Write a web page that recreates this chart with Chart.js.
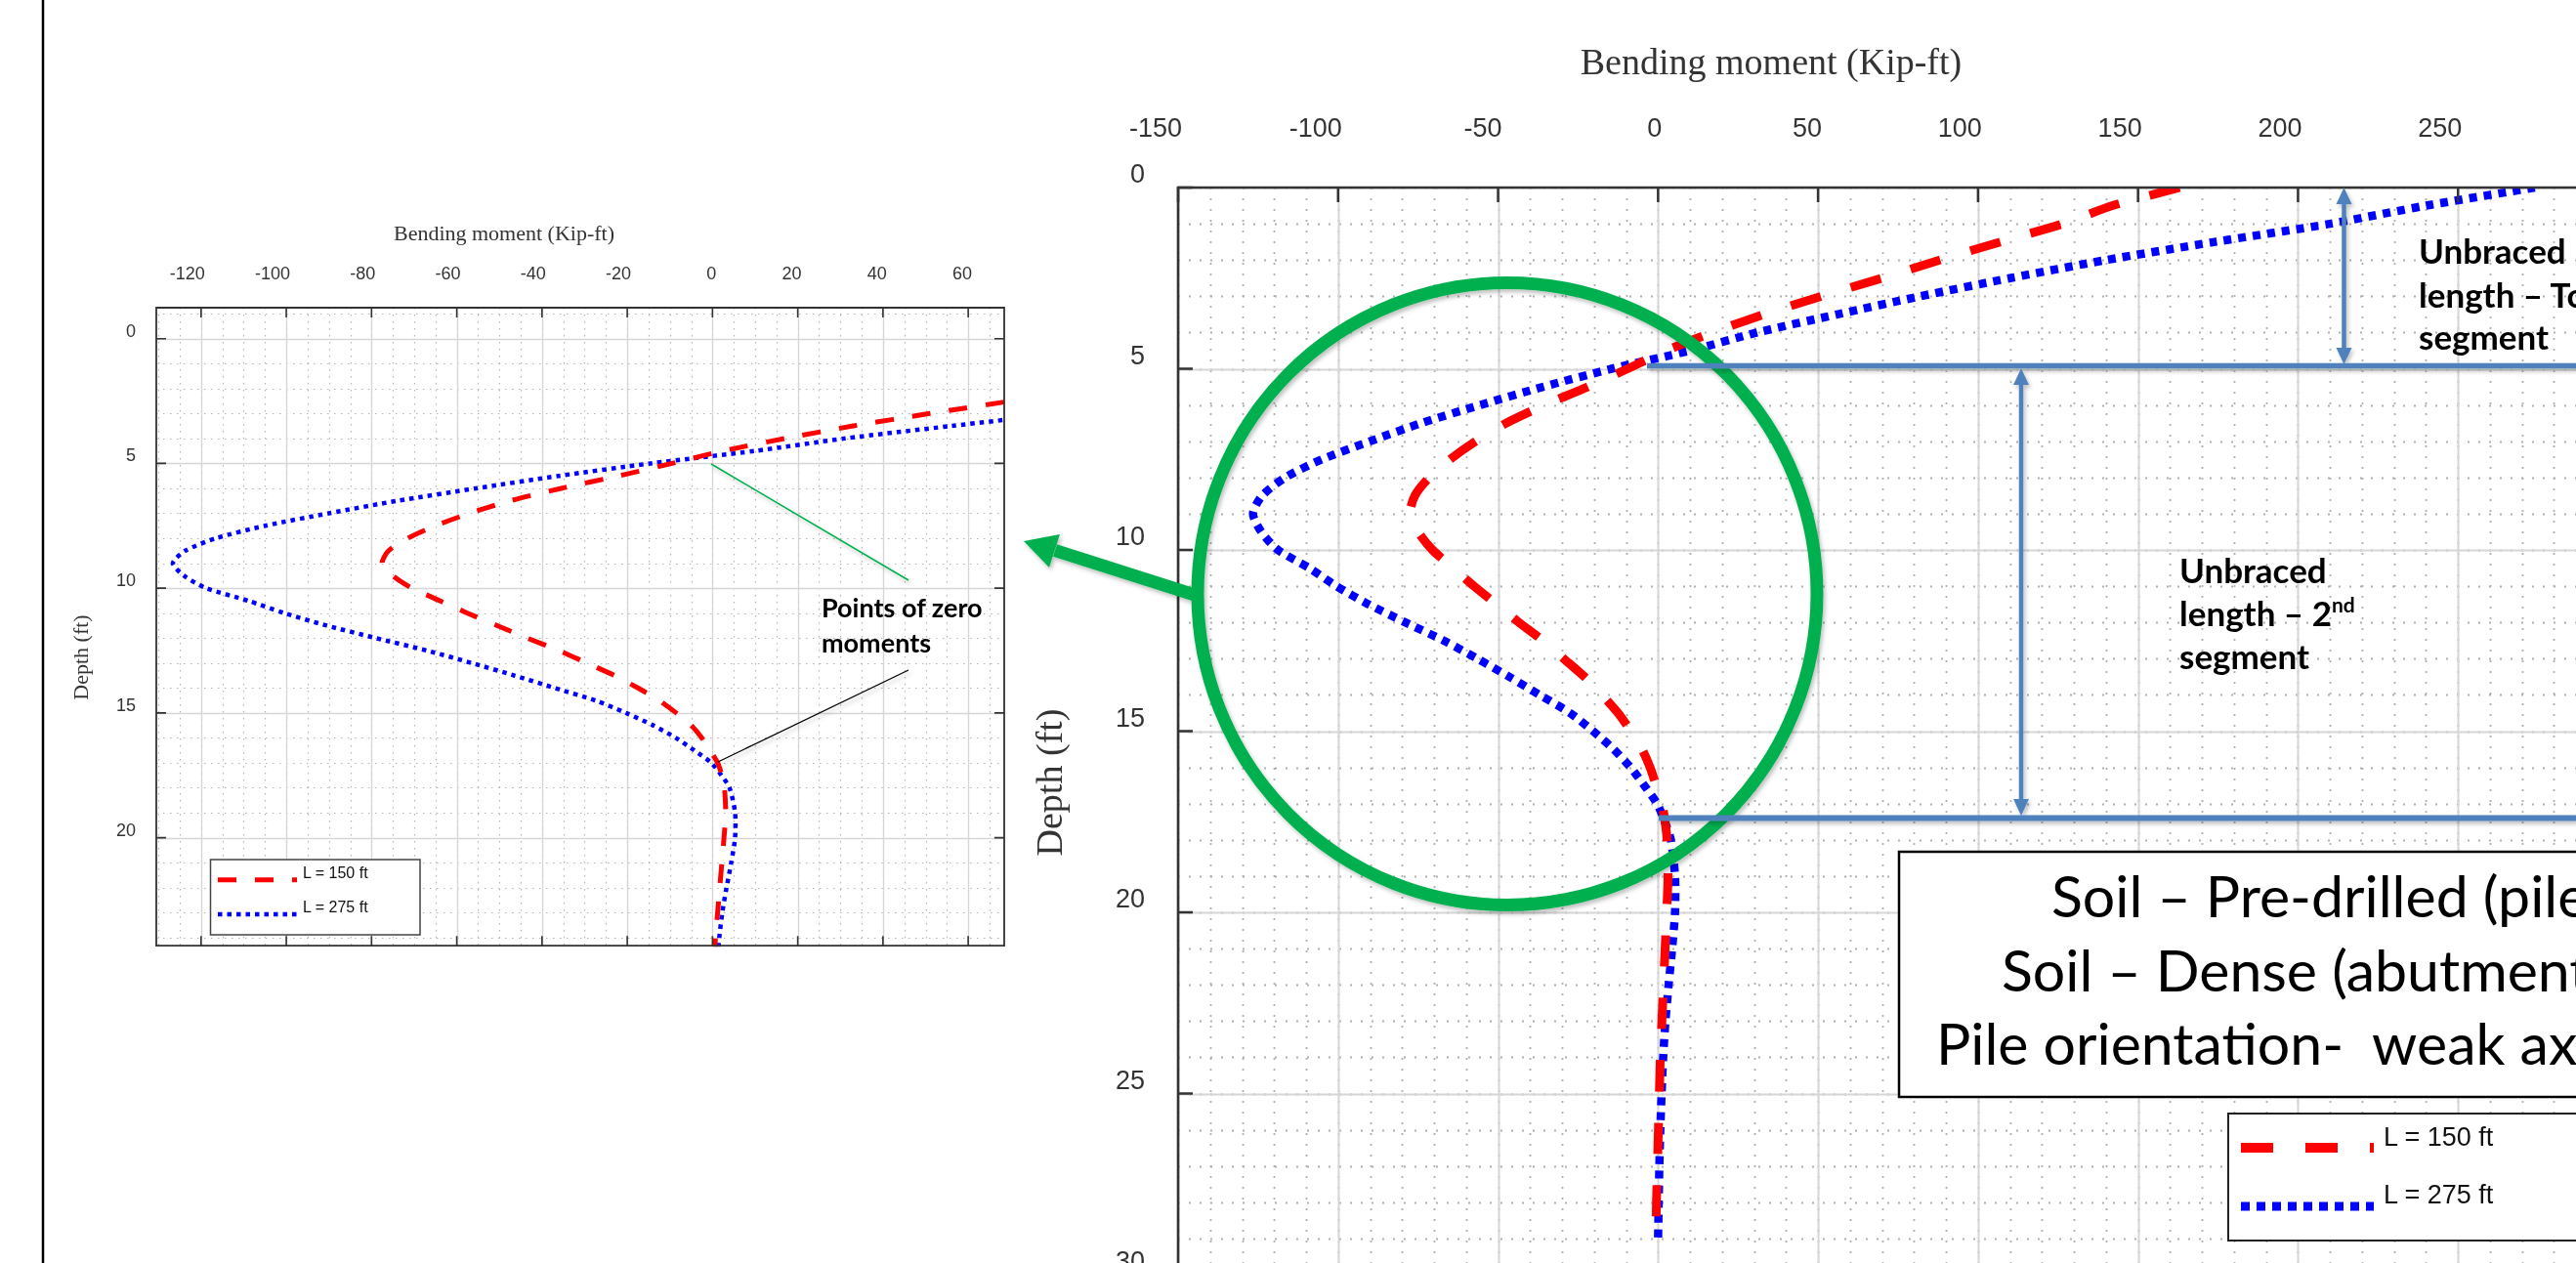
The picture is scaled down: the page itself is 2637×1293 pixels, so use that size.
<!DOCTYPE html>
<html>
<head>
<meta charset="utf-8">
<script src="https://cdn.jsdelivr.net/npm/chart.js@4.4.1/dist/chart.umd.min.js"></script>
<style>
  html, body { margin: 0; padding: 0; background: #fff; }
  body { width: 2637px; height: 1293px; overflow: hidden; position: relative; }
  canvas { position: absolute; top: 0; }
  #zoomChart { left: 0; }
  #mainChart { left: 1040px; }
  #notes { position: absolute; left: 0; top: 0; }
  .serif { font-family: 'Liberation Serif', 'Times New Roman', serif; fill: #333; }
  .callout { font-family: Lato, 'Open Sans', sans-serif; fill: #000; }
  .legend { font-family: 'Liberation Sans', Arial, sans-serif; fill: #111; }
</style>
</head>
<body>
<canvas id="zoomChart" width="1040" height="1000"></canvas>
<canvas id="mainChart" width="1700" height="1400"></canvas>

<svg id="notes" xmlns="http://www.w3.org/2000/svg" width="2637" height="1293" viewBox="0 0 2637 1293">
  <defs>
    <filter id="shade" filterUnits="userSpaceOnUse" x="0" y="0" width="2637" height="1293">
      <feDropShadow dx="2" dy="3" stdDeviation="2" flood-color="#000" flood-opacity="0.25"/>
    </filter>
  </defs>

  <!-- slide edge -->
  <line x1="44" y1="0" x2="44" y2="1293" stroke="#000" stroke-width="2.5"/>

  <!-- axis titles -->
  <text class="serif" x="516" y="246" font-size="22" text-anchor="middle">Bending moment (Kip-ft)</text>
  <text class="serif" transform="translate(90,673) rotate(-90)" font-size="22" text-anchor="middle">Depth (ft)</text>
  <text class="serif" x="1813" y="76" font-size="38" text-anchor="middle">Bending moment (Kip-ft)</text>
  <text class="serif" transform="translate(1087,801) rotate(-90)" font-size="38" text-anchor="middle">Depth (ft)</text>

  <!-- zero moment callout (zoomed chart) -->
  <line x1="728" y1="475" x2="930" y2="594" stroke="#00b050" stroke-width="1.5" filter="url(#shade)"/>
  <line x1="930" y1="686" x2="735" y2="780" stroke="#000" stroke-width="1.3" filter="url(#shade)"/>
  <text class="callout" x="841" y="632" font-size="27" font-weight="700">Points of zero</text>
  <text class="callout" x="841" y="668" font-size="27" font-weight="700">moments</text>

  <!-- circle + arrow to zoomed chart -->
  <g filter="url(#shade)" fill="#00b050" stroke="#00b050">
    <ellipse cx="1543" cy="608" rx="317" ry="318.5" fill="none" stroke-width="13"/>
    <line x1="1226" y1="610" x2="1080" y2="563.5" stroke-width="13"/>
    <polygon points="1048,554 1085,547 1074,581" stroke="none"/>
  </g>

  <!-- unbraced length markers -->
  <g filter="url(#shade)" stroke="#4f81bd" fill="#4f81bd">
    <line x1="1686" y1="374.5" x2="2637" y2="374.5" stroke-width="5.5"/>
    <line x1="1698" y1="837.5" x2="2637" y2="837.5" stroke-width="6"/>
    <line x1="2399.5" y1="205" x2="2399.5" y2="360" stroke-width="4.5"/>
    <polygon points="2399.5,192 2391.5,209 2407.5,209" stroke="none"/>
    <polygon points="2399.5,373 2391.5,356 2407.5,356" stroke="none"/>
    <line x1="2069" y1="390" x2="2069" y2="822" stroke-width="4.5"/>
    <polygon points="2069,377 2061,394 2077,394" stroke="none"/>
    <polygon points="2069,835 2061,818 2077,818" stroke="none"/>
  </g>
  <g class="callout" font-size="35" font-weight="700">
    <text x="2476" y="270">Unbraced</text>
    <text x="2476" y="315">length – Top</text>
    <text x="2476" y="358">segment</text>
    <text x="2231" y="597">Unbraced</text>
    <text x="2231" y="641">length – 2<tspan font-size="21" dy="-14">nd</tspan></text>
    <text x="2231" y="685">segment</text>
  </g>

  <!-- condition box -->
  <rect x="1944" y="872" width="900" height="251" fill="#fff" stroke="#000" stroke-width="2.5"/>
  <g class="callout" font-size="59">
    <text x="2100" y="939">Soil – Pre-drilled (pile)</text>
    <text x="2049" y="1015">Soil – Dense (abutment)</text>
    <text x="1982" y="1090">Pile orientation-&#160; weak axis</text>
  </g>

  <g id="legends"></g>
</svg>

<script>
// depth below pile head (ft) and bending moment (kip-ft)
const depth = [0, 0.5, 1, 1.5, 2, 2.5, 3, 3.5, 4, 4.5,
  5, 5.5, 6, 6.5, 7, 7.5, 8, 8.5, 9, 9.5,
  10, 10.5, 11, 11.5, 12, 12.5, 13, 13.5, 14, 14.5,
  15, 15.5, 16, 16.5, 17, 17.5, 18,
  19, 20, 21, 22, 23, 24, 25, 26, 27, 28, 29];
const moment150 = [163, 142, 126.5, 107, 88, 70, 51, 33, 17, 2.5,
  -9.5, -22, -35.5, -47.5, -57, -65, -71.5, -76, -77.5, -75,
  -70.5, -64, -57.5, -50.5, -43.5, -36, -29.5, -23, -17.5, -12.5,
  -8.5, -5, -2.5, -0.6, 1.2, 2.2, 2.8,
  3.1, 2.7, 2.2, 1.7, 1.2, 0.7, 0.4, 0.1, -0.2, -0.5, -0.7];
const moment275 = [274, 240, 210, 174, 140, 110, 82, 56, 31, 10,
  -14.5, -36, -55.5, -74, -90, -105, -116.5, -123.7, -126.6, -124,
  -118.8, -109, -100.5, -90.5, -79, -67, -56.5, -46.5, -37, -27.5,
  -20.3, -13.9, -8.6, -4.3, -0.3, 2.1, 4,
  5.3, 5.3, 4.4, 3.3, 2.3, 1.6, 1.1, 0.7, 0.4, 0.2, 0];
const seriesLabels = ['L = 150 ft', 'L = 275 ft'];
const seriesColors = ['#ff0000', '#0000ff'];

// axis ranges (main plot and zoomed plot)
const mainMoment = { min: -150, max: 300, major: 50, minor: 10 };
const mainDepth = { min: 0, max: 30, major: 5, minor: 1 };
const zoomMoment = { min: -130.5, max: 68.45, major: 20, minor: 5 };
const zoomDepth = { min: -1.24, max: 24.33, major: 5, minor: 1 };

function stepValues(scale, step) {
  const out = [];
  for (let k = Math.ceil(scale.min / step - 1e-9); k * step <= scale.max + 1e-9; k++) out.push(k * step);
  return out;
}

// graph-paper grid, box border and inward tick marks
const sheetGrid = {
  id: 'sheetGrid',
  beforeDatasetsDraw(chart, args, o) {
    const { ctx, chartArea: a } = chart;
    const xs = chart.scales.x, ys = chart.scales.y;
    const draw = (step, dash, color, width) => {
      ctx.setLineDash(dash);
      ctx.strokeStyle = color;
      ctx.lineWidth = width;
      ctx.beginPath();
      stepValues(xs, step[0]).forEach(v => {
        const p = Math.round(xs.getPixelForValue(v)) + 0.5;
        ctx.moveTo(p, a.top); ctx.lineTo(p, a.bottom);
      });
      stepValues(ys, step[1]).forEach(v => {
        const p = Math.round(ys.getPixelForValue(v)) + 0.5;
        ctx.moveTo(a.left, p); ctx.lineTo(a.right, p);
      });
      ctx.stroke();
    };
    ctx.save();
    ctx.beginPath();
    ctx.rect(a.left, a.top, a.right - a.left, a.bottom - a.top);
    ctx.clip();
    draw([o.xMinor, o.yMinor], o.minorDash, o.minorColor, o.minorWidth);
    draw([o.xMajor, o.yMajor], [], o.majorColor, o.majorWidth);
    ctx.restore();
  },
  afterDatasetsDraw(chart, args, o) {
    const { ctx, chartArea: a } = chart;
    const xs = chart.scales.x, ys = chart.scales.y;
    const L = o.tickLen;
    ctx.save();
    ctx.setLineDash([]);
    ctx.strokeStyle = o.edgeColor;
    ctx.lineWidth = o.tickWidth;
    ctx.beginPath();
    stepValues(xs, o.xMajor).forEach(v => {
      const p = xs.getPixelForValue(v);
      ctx.moveTo(p, a.top); ctx.lineTo(p, a.top + L);
      if (o.mirror) { ctx.moveTo(p, a.bottom); ctx.lineTo(p, a.bottom - L); }
    });
    stepValues(ys, o.yMajor).forEach(v => {
      const p = ys.getPixelForValue(v);
      ctx.moveTo(a.left, p); ctx.lineTo(a.left + L, p);
      if (o.mirror) { ctx.moveTo(a.right, p); ctx.lineTo(a.right - L, p); }
    });
    ctx.stroke();
    ctx.lineWidth = o.edgeWidth;
    ctx.beginPath();
    ctx.moveTo(a.left, a.bottom); ctx.lineTo(a.left, a.top); ctx.lineTo(a.right, a.top);
    if (o.mirror) { ctx.lineTo(a.right, a.bottom); ctx.closePath(); }
    ctx.stroke();
    ctx.restore();
  }
};

function makeDatasets(widths, dashes) {
  return [moment150, moment275].map((m, s) => ({
    label: seriesLabels[s],
    data: depth.map((d, i) => ({ x: m[i], y: d })),
    showLine: true,
    borderColor: seriesColors[s],
    backgroundColor: seriesColors[s],
    borderWidth: widths[s],
    borderDash: dashes[s],
    borderCapStyle: 'butt',
    pointRadius: 0,
    tension: 0.25,
    clip: 1
  }));
}

function makeOptions(c) {
  const tickFont = { family: "'Liberation Sans', Arial, sans-serif", size: c.fontSize };
  return {
    responsive: false,
    animation: false,
    devicePixelRatio: 1,
    layout: { padding: { left: 0, top: 0, right: c.padRight, bottom: c.padBottom } },
    plugins: {
      legend: { display: false },
      tooltip: { enabled: false },
      sheetGrid: c.grid
    },
    scales: {
      x: {
        type: 'linear', position: 'top',
        min: c.moment.min, max: c.moment.max,
        grid: { display: false, drawTicks: false },
        border: { display: false },
        ticks: {
          stepSize: c.moment.major, includeBounds: false, autoSkip: false, maxRotation: 0,
          align: 'end', labelOffset: 4, padding: c.xPad, color: '#333', font: tickFont
        },
        afterFit: s => { s.height = c.top; }
      },
      y: {
        type: 'linear', reverse: true,
        min: c.depth.min, max: c.depth.max,
        grid: { display: false, drawTicks: false },
        border: { display: false },
        ticks: {
          stepSize: c.depth.major, includeBounds: false, autoSkip: false,
          labelOffset: c.yOffset, padding: c.yPad, color: '#333', font: tickFont
        },
        afterFit: s => { s.width = c.left; }
      }
    }
  };
}

new Chart(document.getElementById('zoomChart'), {
  type: 'scatter',
  data: { datasets: makeDatasets([5, 4.5], [[19, 19], [4.5, 5]]) },
  options: makeOptions({
    moment: zoomMoment, depth: zoomDepth, fontSize: 18,
    left: 160, top: 315, padRight: 12, padBottom: 29,
    xPad: 23, yPad: 21, yOffset: -7,
    grid: {
      xMajor: zoomMoment.major, yMajor: zoomDepth.major, xMinor: zoomMoment.minor, yMinor: zoomDepth.minor,
      minorDash: [1.5, 5.5], minorColor: '#b5b5b5', minorWidth: 1.2,
      majorColor: '#d6d6d6', majorWidth: 1.3,
      tickLen: 10, tickWidth: 1.6, edgeColor: '#333', edgeWidth: 1.8, mirror: true
    }
  }),
  plugins: [sheetGrid]
});

new Chart(document.getElementById('mainChart'), {
  type: 'scatter',
  data: { datasets: makeDatasets([9, 8.5], [[32, 32], [8, 7]]) },
  options: makeOptions({
    moment: mainMoment, depth: mainDepth, fontSize: 27,
    left: 166, top: 192, padRight: 60, padBottom: 95,
    xPad: 43, yPad: 34, yOffset: -12,
    grid: {
      xMajor: mainMoment.major, yMajor: mainDepth.major, xMinor: mainMoment.minor, yMinor: mainDepth.minor,
      minorDash: [2, 9], minorColor: '#b0b0b0', minorWidth: 1.8,
      majorColor: '#d6d6d6', majorWidth: 2,
      tickLen: 15, tickWidth: 2.5, edgeColor: '#333', edgeWidth: 2.6, mirror: false
    }
  }),
  plugins: [sheetGrid]
});

// legends, built from the series labels and line styles
const legendSpecs = [
  { box: [215.5, 880, 214.5, 77], stroke: '#444', sw: 1.5, x0: 223, x1: 304, tx: 310, font: 16,
    rows: [{ y: 900.7, w: 5, dash: '19 19', ty: 899 }, { y: 936, w: 4.5, dash: '4.5 5', ty: 934 }] },
  { box: [2281, 1140, 500, 130], stroke: '#222', sw: 2, x0: 2294, x1: 2430, tx: 2440, font: 27,
    rows: [{ y: 1175, w: 10, dash: '33 33', ty: 1173 }, { y: 1235, w: 9, dash: '9 7', ty: 1232 }] }
];
const NS = 'http://www.w3.org/2000/svg';
const legendLayer = document.getElementById('legends');
function svgEl(tag, attrs, text) {
  const el = document.createElementNS(NS, tag);
  Object.entries(attrs).forEach(([k, v]) => el.setAttribute(k, v));
  if (text) el.textContent = text;
  legendLayer.appendChild(el);
  return el;
}
legendSpecs.forEach(L => {
  svgEl('rect', { x: L.box[0], y: L.box[1], width: L.box[2], height: L.box[3], fill: '#fff', stroke: L.stroke, 'stroke-width': L.sw });
  L.rows.forEach((r, s) => {
    svgEl('line', { x1: L.x0, y1: r.y, x2: L.x1, y2: r.y, stroke: seriesColors[s], 'stroke-width': r.w, 'stroke-dasharray': r.dash });
    svgEl('text', { x: L.tx, y: r.ty, class: 'legend', 'font-size': L.font }, seriesLabels[s]);
  });
});
</script>
</body>
</html>
